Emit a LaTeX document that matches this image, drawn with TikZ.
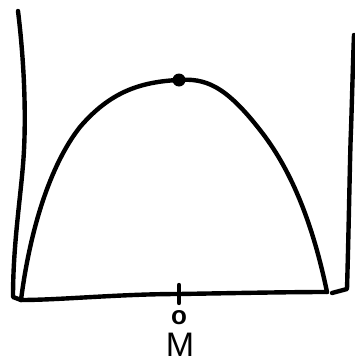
\documentclass[tikz,border=0pt]{standalone}
\usepackage{fontspec}
\setmainfont{Liberation Sans}
\begin{document}
\begin{tikzpicture}[x=1pt,y=-1pt,
  ink/.style={line width=4.4pt,line cap=round,line join=round,black},
  lbl/.style={inner sep=0pt,text=black}]
\useasboundingbox (0,0) rectangle (354,362);
% coordinates
\coordinate (ltop) at (18,11);
\coordinate (lbot) at (13,297);
\coordinate (bstart) at (21,300);
\coordinate (bend) at (327,292);
\coordinate (rbot) at (332,293);
\coordinate (rtop) at (354,35);
\coordinate (tk1) at (179,285);
\coordinate (tk2) at (179,303);
% left wall
\draw[ink] (ltop) .. controls (24,60) and (26,110) .. (24,150)
  .. controls (22,190) and (13,240) .. (13,297) -- (bstart);
% base
\draw[ink] (bstart) .. controls (60,300) and (120,294) .. (179,294)
  .. controls (240,293) and (290,292) .. (bend);
% right wall
\draw[ink] (rbot) -- (347,289) .. controls (349,220) and (350,150) .. (351,130)
  .. controls (352,100) and (353,60) .. (rtop);
% parabola
\draw[ink] (bstart) .. controls (30,230) and (50,165) .. (80,127)
  .. controls (110,92) and (140,82) .. (178,80)
  .. controls (205,78) and (225,85) .. (260,130)
  .. controls (290,168) and (312,220) .. (bend);
\node[circle,fill=black,inner sep=0pt,minimum size=13pt] (top) at (179,80) {};
% tick
\draw[ink] (tk1) -- (tk2);
\node[lbl,anchor=base,font=\bfseries\fontsize{26}{26}\selectfont] (o) at (179,324) {o};
\node[lbl,anchor=base,font=\fontsize{34}{34}\selectfont] (M) at (180,356) {M};
\end{tikzpicture}
\end{document}
